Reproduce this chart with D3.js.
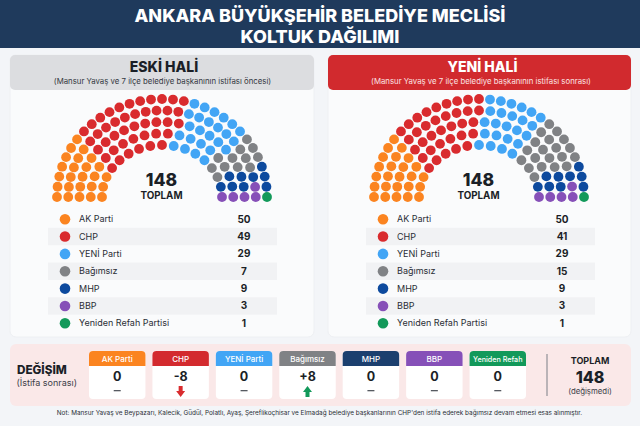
<!DOCTYPE html>
<html>
<head>
    <meta charset="utf-8">
    <title>Ankara Büyükşehir Belediye Meclisi</title>
    <script src="https://d3js.org/d3.v7.min.js"></script>
    <style>
        html, body { margin: 0; padding: 0; background: #f3f5f8; }
        svg { display: block; }
        text { font-family: Inter, "Noto Sans", sans-serif; fill: #1b1f27; }
    </style>
</head>
<body>
    <svg width="640" height="426"></svg>
    <script>
        // data
        const partyNames = ["AK Parti", "CHP", "YENİ Parti", "Bağımsız", "MHP", "BBP", "Yeniden Refah Partisi"];
        const cardNames = ["AK Parti", "CHP", "YENİ Parti", "Bağımsız", "MHP", "BBP", "Yeniden Refah"];
        const oldSeats = [50, 49, 29, 7, 9, 3, 1];
        const newSeats = [50, 41, 29, 15, 9, 3, 1];
        const seatChanges = [0, -8, 0, 8, 0, 0, 0];
        const totalSeats = 148;

        // seats per party in each row of the drawing, outer row first
        const oldRows = [
            [7, 11, 6, 3, 3, 0, 1],
            [6, 10, 6, 3, 1, 2, 0],
            [5, 9, 5, 2, 2, 1, 0],
            [4, 7, 4, 2, 2, 1, 0],
            [3, 6, 4, 2, 1, 1, 0]
        ];
        const newRows = [
            [7, 9, 6, 5, 3, 0, 1],
            [6, 8, 5, 5, 1, 2, 0],
            [5, 7, 5, 4, 2, 1, 0],
            [4, 6, 4, 3, 2, 1, 0],
            [3, 5, 4, 3, 1, 1, 0]
        ];

        const partyColors = ["#fb8420", "#d92b2e", "#42a5f5", "#808285", "#0d4a9e", "#8650b8", "#12995a"];
        const cardColors = ["#fb8420", "#d32a2e", "#42a5f5", "#808285", "#1c3f6e", "#8650b8", "#12995a"];

        const svg = d3.select("svg");

        // Header
        svg.append("rect").attr("width", 640).attr("height", 48).attr("fill", "#1f3a5c");
        svg.append("text").attr("x", 320).attr("y", 22).attr("text-anchor", "middle")
            .style("font-size", "18px").style("font-weight", 800).style("fill", "#fff")
            .text("ANKARA BÜYÜKŞEHİR BELEDİYE MECLİSİ");
        svg.append("text").attr("x", 320).attr("y", 43).attr("text-anchor", "middle")
            .style("font-size", "18px").style("font-weight", 800).style("fill", "#fff")
            .text("KOLTUK DAĞILIMI");

        const rowX = d3.scaleLinear().domain([0, 4]).range([105, 60]);
        const rowY = d3.scaleLinear().domain([0, 4]).range([98, 52]);

        function drawPanel(opts) {
            const p = svg.append("g");
            p.append("rect").attr("x", opts.x).attr("y", 55).attr("width", opts.w).attr("height", 282)
                .attr("rx", 6).attr("fill", "#fafbfc").attr("stroke", "#eef0f3");
            p.append("rect").attr("x", opts.x).attr("y", 55).attr("width", opts.w).attr("height", 35)
                .attr("rx", 5).attr("fill", opts.head);
            p.append("text").attr("x", opts.titleX).attr("y", 72).attr("text-anchor", "middle")
                .style("font-size", "14px").style("font-weight", 800).style("fill", opts.titleColor)
                .text(opts.title);
            p.append("text").attr("x", opts.subX).attr("y", 83.5).attr("text-anchor", "middle")
                .style("font-size", "7.8px").style("fill", opts.subColor)
                .text(opts.sub);

            // seats, row by row
            opts.rows.forEach((row, r) => {
                const seats = row.flatMap((n, i) => d3.range(n).map(() => i));
                const angle = d3.scaleLinear().domain([0, seats.length - 1]).range([Math.PI, 0]);
                p.append("g").selectAll("circle")
                    .data(seats)
                    .enter().append("circle")
                    .attr("cx", (d, i) => opts.cx + rowX(r) * Math.cos(angle(i)))
                    .attr("cy", (d, i) => 197 - rowY(r) * Math.sin(angle(i)))
                    .attr("r", 4.9)
                    .attr("fill", d => partyColors[d]);
            });

            p.append("text").attr("x", opts.cx - 0.5).attr("y", 185.5).attr("text-anchor", "middle")
                .style("font-size", "17.5px").style("font-weight", 800).text(totalSeats);
            p.append("text").attr("x", opts.cx - 0.5).attr("y", 198.5).attr("text-anchor", "middle")
                .style("font-size", "9.8px").style("font-weight", 700).text("TOPLAM");

            // legend table
            const rowScale = d3.scaleBand().domain(d3.range(partyNames.length)).range([210.5, 332]);
            const rows = p.append("g").selectAll("g")
                .data(partyNames)
                .enter().append("g")
                .attr("transform", (d, i) => `translate(0,${rowScale(i)})`);
            rows.append("rect")
                .attr("x", opts.tableX).attr("width", 229).attr("height", rowScale.bandwidth())
                .attr("fill", (d, i) => i % 2 ? "#f1f2f4" : "none");
            rows.append("circle")
                .attr("cx", opts.tableX + 17).attr("cy", rowScale.bandwidth() / 2).attr("r", 5.3)
                .attr("fill", (d, i) => partyColors[i]);
            rows.append("text")
                .attr("x", opts.tableX + 31).attr("y", rowScale.bandwidth() / 2 + 3)
                .style("font-size", "9px").style("fill", "#2a2e36").text(d => d);
            rows.append("text")
                .attr("x", opts.tableX + 196).attr("y", rowScale.bandwidth() / 2 + 3.5)
                .attr("text-anchor", "middle")
                .style("font-size", "10px").style("font-weight", 700)
                .text((d, i) => opts.seats[i]);
        }

        drawPanel({
            x: 10, w: 304, cx: 162, titleX: 164, subX: 162.5, tableX: 48, head: "#dcdde0",
            title: "ESKİ HALİ", titleColor: "#1b1f27", subColor: "#33373f",
            sub: "(Mansur Yavaş ve 7 ilçe belediye başkanının istifası öncesi)",
            rows: oldRows, seats: oldSeats
        });
        drawPanel({
            x: 328, w: 303, cx: 479, titleX: 482.5, subX: 481, tableX: 366, head: "#d12a2e",
            title: "YENİ HALİ", titleColor: "#fff", subColor: "#fbe3e3",
            sub: "(Mansur Yavaş ve 7 ilçe belediye başkanının istifası sonrası)",
            rows: newRows, seats: newSeats
        });

        // Change band
        svg.append("rect").attr("x", 10).attr("y", 344).attr("width", 621).attr("height", 62)
            .attr("rx", 6).attr("fill", "#fae8e8");
        svg.append("text").attr("x", 17).attr("y", 373.5)
            .style("font-size", "11.7px").style("font-weight", 800).text("DEĞİŞİM");
        svg.append("text").attr("x", 16.5).attr("y", 386)
            .style("font-size", "9px").style("fill", "#3c4048").text("(İstifa sonrası)");

        const cardScale = d3.scaleBand().domain(d3.range(cardNames.length)).range([89, 526]).paddingInner(0.11);
        const cw = cardScale.bandwidth();
        const cards = svg.append("g").selectAll("g")
            .data(cardNames)
            .enter().append("g")
            .attr("transform", (d, i) => `translate(${cardScale(i)},351)`);
        cards.append("rect").attr("width", cw).attr("height", 48).attr("rx", 4).attr("fill", "#fff");
        cards.append("path")
            .attr("d", `M0,15V4A4,4 0 0 1 4,0H${cw - 4}A4,4 0 0 1 ${cw},4V15Z`)
            .attr("fill", (d, i) => cardColors[i]);
        cards.append("text").attr("x", cw / 2).attr("y", 11).attr("text-anchor", "middle")
            .style("font-size", d => d.length > 10 ? "7.2px" : "8px")
            .style("fill", "#fff").style("font-weight", 500).text(d => d);
        cards.append("text").attr("x", cw / 2).attr("y", 29.5).attr("text-anchor", "middle")
            .style("font-size", "12.5px").style("font-weight", 700)
            .text((d, i) => seatChanges[i] > 0 ? "+" + seatChanges[i] : seatChanges[i]);
        cards.each(function(d, i) {
            const g = d3.select(this);
            const v = seatChanges[i];
            if (v === 0) {
                g.append("rect").attr("x", cw / 2 - 3.5).attr("y", 39).attr("width", 7).attr("height", 1.3).attr("fill", "#565a61");
            } else {
                const tip = v < 0 ? 11 : -11;
                g.append("path")
                    .attr("transform", `translate(${cw / 2},${v < 0 ? 35 : 46})`)
                    .attr("d", `M-2,0H2V${tip * 0.45}H4.5L0,${tip}L-4.5,${tip * 0.45}H-2Z`)
                    .attr("fill", v < 0 ? "#d92b2e" : "#12995a");
            }
        });

        // Total on the right of the band
        svg.append("line").attr("x1", 547).attr("x2", 547).attr("y1", 354).attr("y2", 396)
            .attr("stroke", "#7b7f86");
        svg.append("text").attr("x", 590).attr("y", 363.5).attr("text-anchor", "middle")
            .style("font-size", "9px").style("font-weight", 700).text("TOPLAM");
        svg.append("text").attr("x", 590).attr("y", 383).attr("text-anchor", "middle")
            .style("font-size", "16px").style("font-weight", 800).text(totalSeats);
        svg.append("text").attr("x", 590).attr("y", 393.5).attr("text-anchor", "middle")
            .style("font-size", "7.8px").style("fill", "#3c4048").text("(değişmedi)");

        // Footnote
        svg.append("text").attr("x", 319.5).attr("y", 415).attr("text-anchor", "middle")
            .style("font-size", "6.4px").style("fill", "#2a2e36")
            .text("Not: Mansur Yavaş ve Beypazarı, Kalecik, Güdül, Polatlı, Ayaş, Şereflikoçhisar ve Elmadağ belediye başkanlarının CHP'den istifa ederek bağımsız devam etmesi esas alınmıştır.");
    </script>
</body>
</html>
